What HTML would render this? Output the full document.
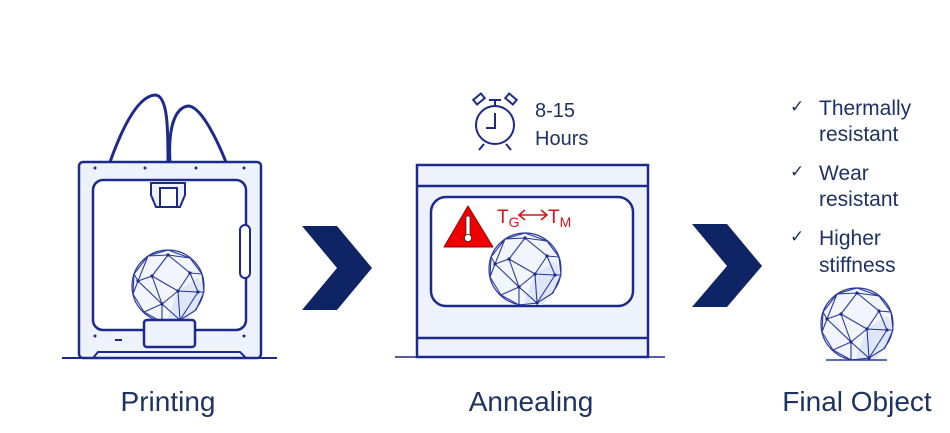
<!DOCTYPE html>
<html><head><meta charset="utf-8"><style>
body{margin:0;background:#fff;width:950px;height:433px;overflow:hidden}
svg{display:block}
text{font-family:"Liberation Sans",sans-serif}
</style></head><body>
<svg width="950" height="433" viewBox="0 0 950 433" xmlns="http://www.w3.org/2000/svg">
<defs>
<g id="sph">
<circle r="36" fill="#f2f5fd" stroke="#2a3a9a" stroke-width="1.2"/>
<path d="M10,5 L30,-8 L36,4 L28,22 L18,36 L-2,36 Z" fill="#dfe6f8"/>
<g fill="none" stroke="#2a3a9a" stroke-width="1.1">
<path d="M-20,-30 L0,-36 L22,-28 L34,-12 L36,6 L28,24 L12,34 L-6,36 L-24,26 L-35,8 L-34,-12 Z"/>
<path d="M0,-31 L-16,-10 L-30,-5 M0,-31 L22,-13 L10,5 L-16,-10 M22,-13 L34,-12 M22,-13 L30,6 L10,5 L-6,18 L-16,-10 M-30,-5 L-6,18 L-24,26 M-30,-5 L-35,8 M30,6 L12,34 L-6,18 M10,5 L12,34 M-6,18 L-6,36 M-20,-30 L0,-31 L22,-28 M30,6 L36,6 M-34,-12 L-30,-5 L-20,-30"/>
</g>
<g fill="#1a2a88"><circle cx="0" cy="-31" r="1.6"/><circle cx="-16" cy="-10" r="1.6"/><circle cx="22" cy="-13" r="1.6"/><circle cx="10" cy="5" r="1.6"/><circle cx="-30" cy="-5" r="1.6"/><circle cx="-6" cy="18" r="1.6"/><circle cx="30" cy="6" r="1.6"/><circle cx="12" cy="34" r="1.6"/></g>
</g>
</defs>
<!-- Printer -->
<g stroke="#1d2a8a" stroke-width="3" fill="none" stroke-linecap="round">
<path d="M110,162 C125,120 140,96 155,95 C168,95 168,130 168,162"/>
<path d="M170,162 C168,130 174,108 188,106 C200,106 215,135 226,162"/>
</g>
<rect x="79" y="162" width="182" height="196" rx="4" fill="#eef2fc" stroke="#1d2a8a" stroke-width="2.5"/>
<rect x="93" y="180" width="153" height="150" rx="10" fill="#fff" stroke="#1d2a8a" stroke-width="2.5"/>
<g fill="#1d2a8a"><circle cx="95" cy="168" r="1.5"/><circle cx="145" cy="168" r="1.5"/><circle cx="196" cy="168" r="1.5"/><circle cx="244" cy="168" r="1.5"/><circle cx="95" cy="336" r="1.5"/><circle cx="244" cy="336" r="1.5"/><rect x="115" y="339" width="7" height="2"/></g>
<path d="M151,183 L185,183 L185,195 L180,207 L156,207 L151,195 Z" fill="#eef2fc" stroke="#1d2a8a" stroke-width="2"/>
<rect x="160" y="188" width="17" height="19" fill="#fff" stroke="#1d2a8a" stroke-width="2"/>
<rect x="240" y="225" width="10" height="53" rx="5" fill="#fff" stroke="#1d2a8a" stroke-width="2"/>
<use href="#sph" x="168" y="286"/>
<rect x="144" y="320" width="51" height="27" rx="3" fill="#eef2fc" stroke="#1d2a8a" stroke-width="2.5"/>
<path d="M93,358 L98,352 L240,352 L246,358" fill="none" stroke="#1d2a8a" stroke-width="2"/>
<line x1="62" y1="358" x2="277" y2="358" stroke="#1d2a8a" stroke-width="2"/>
<!-- chevrons -->
<path d="M302,226 L337,226 L372,268 L337,310 L302,310 L337,268 Z" fill="#0f2464"/>
<path d="M692,224 L727,224 L762,266 L727,307 L692,307 L727,266 Z" fill="#0f2464"/>
<!-- Oven -->
<rect x="417" y="165" width="231" height="192" fill="#eef2fc" stroke="#1d2a8a" stroke-width="2.5"/>
<line x1="417" y1="186" x2="648" y2="186" stroke="#1d2a8a" stroke-width="2.5"/>
<line x1="417" y1="338" x2="648" y2="338" stroke="#1d2a8a" stroke-width="2.5"/>
<rect x="431" y="197" width="202" height="109" rx="15" fill="#fff" stroke="#1d2a8a" stroke-width="2.5"/>
<line x1="395" y1="357" x2="665" y2="357" stroke="#1d2a8a" stroke-width="1.5"/>
<path d="M468,206 L493,247 L444,247 Z" fill="#e00" stroke="#900" stroke-width="1" stroke-linejoin="round"/>
<rect x="466" y="216" width="4" height="20" rx="2" fill="#fff" stroke="#333" stroke-width="0.8"/>
<circle cx="468" cy="238" r="3.5" fill="#fff" stroke="#333" stroke-width="0.8"/>
<text x="497" y="223" font-size="19" fill="#d0161a">T<tspan font-size="14" dy="4">G</tspan></text>
<g stroke="#d0161a" stroke-width="1.6" fill="none"><path d="M520,215 L546,215 M525,210 L519,215 L525,220 M541,210 L547,215 L541,220"/></g>
<text x="548" y="223" font-size="19" fill="#d0161a">T<tspan font-size="14" dy="4">M</tspan></text>
<use href="#sph" x="525" y="269"/>
<!-- clock -->
<g stroke="#1d2a8a" stroke-width="2" fill="none">
<circle cx="495" cy="125" r="19"/>
<path d="M495,113 L495,128 L486,128"/>
<path d="M484,144 L479,150 M506,144 L511,150 M495,106 L495,100 M489,100 L501,100"/>
<rect x="474" y="96" width="10" height="6" transform="rotate(-40 479 99)"/>
<rect x="506" y="96" width="10" height="6" transform="rotate(40 511 99)"/>
</g>
<g font-size="20" fill="#1f3264"><text x="535" y="117">8-15</text><text x="535" y="145">Hours</text></g>
<!-- list -->
<g font-size="21" fill="#1f3264">
<text x="790" y="112" font-size="17">✓</text><text x="819" y="115">Thermally</text><text x="819" y="141">resistant</text>
<text x="790" y="177" font-size="17">✓</text><text x="819" y="180">Wear</text><text x="819" y="206">resistant</text>
<text x="790" y="242" font-size="17">✓</text><text x="819" y="245">Higher</text><text x="819" y="272">stiffness</text>
</g>
<use href="#sph" x="857" y="324"/>
<line x1="826" y1="360" x2="887" y2="360" stroke="#2a3a9a" stroke-width="1.5"/>
<!-- labels -->
<g font-size="28" fill="#1f3264" text-anchor="middle">
<text x="168" y="411">Printing</text>
<text x="531" y="411">Annealing</text>
<text x="857" y="411">Final Object</text>
</g>
</svg>
</body></html>
